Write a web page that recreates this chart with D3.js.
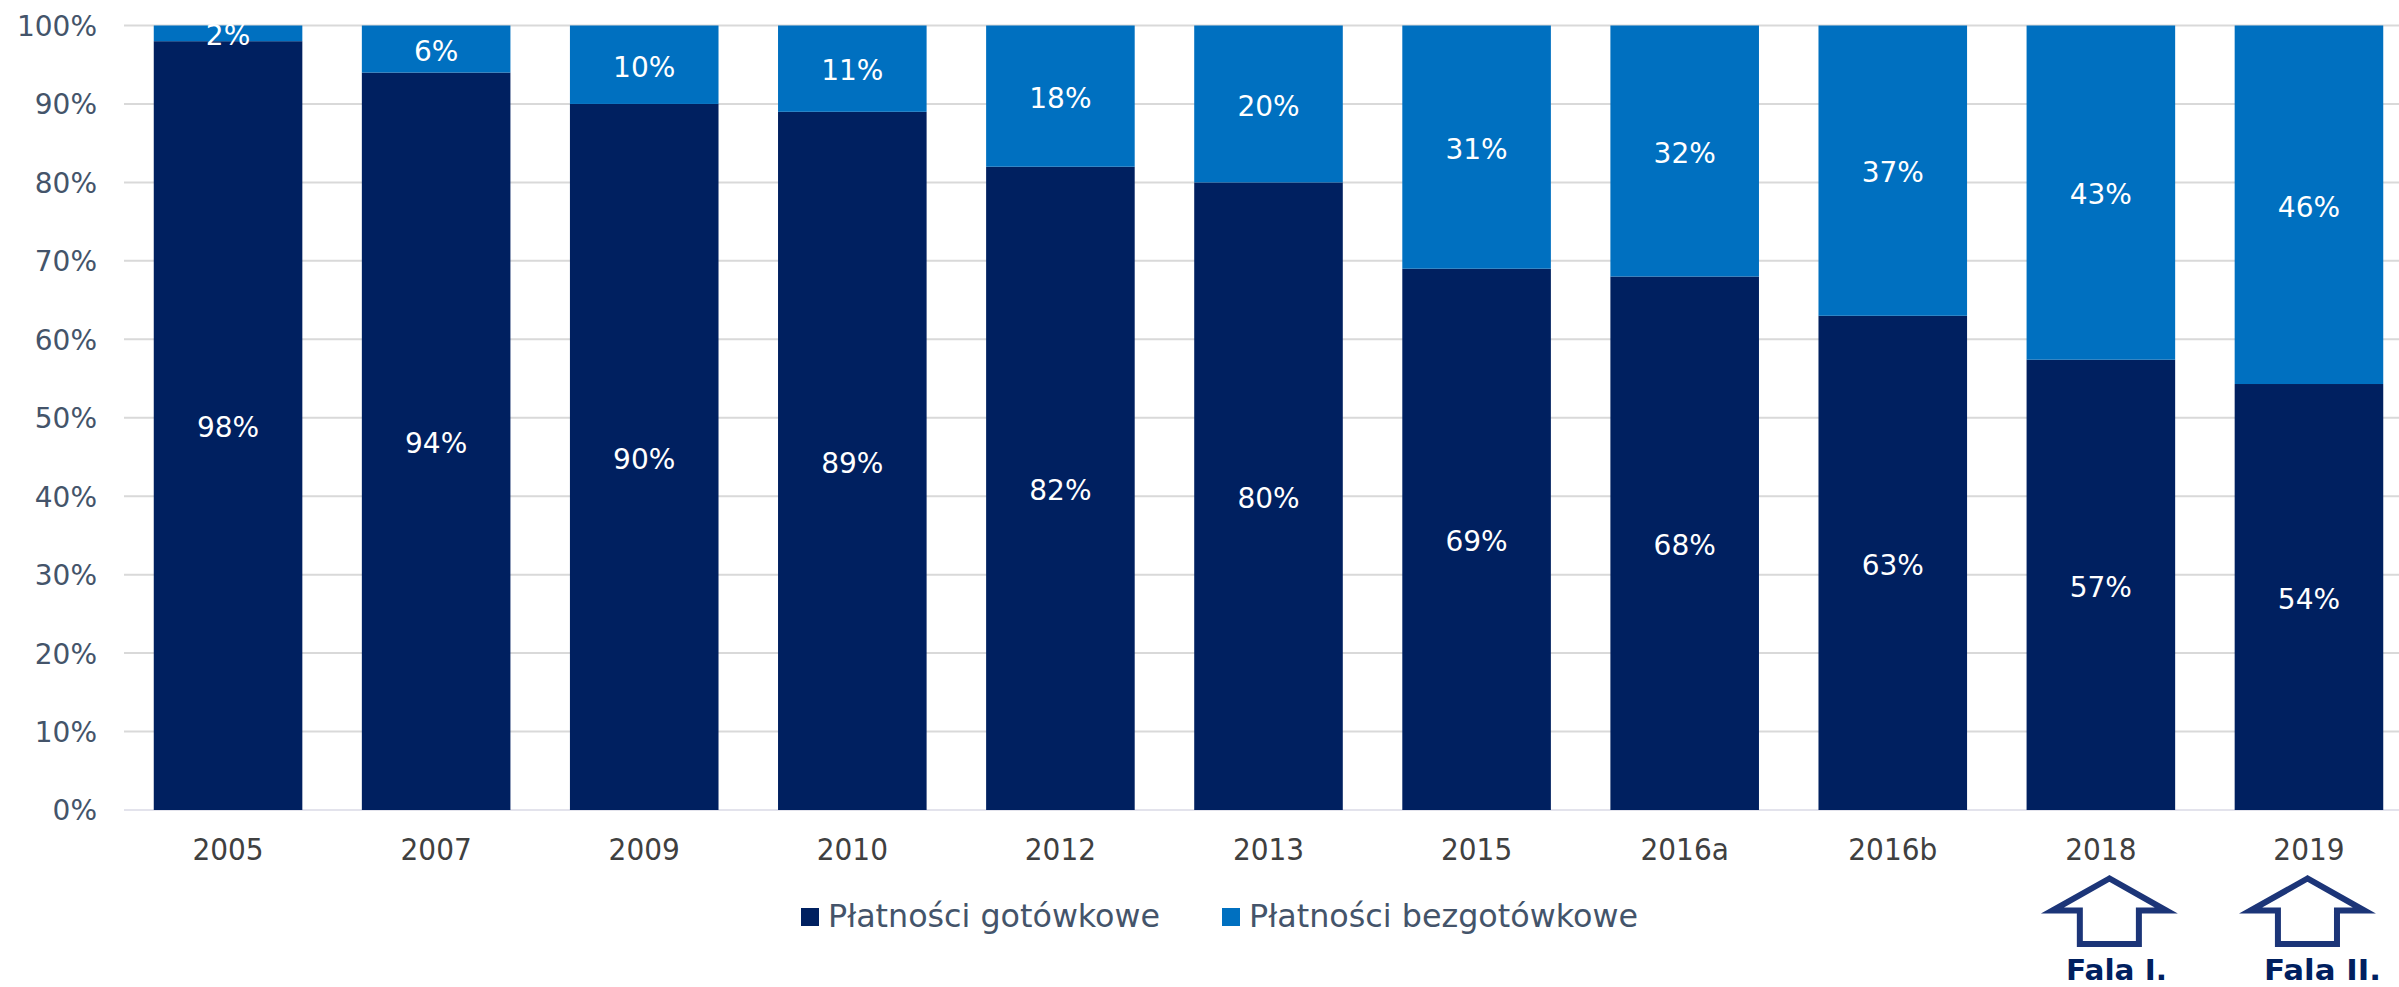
<!DOCTYPE html>
<html><head><meta charset="utf-8">
<script src="https://cdn.jsdelivr.net/npm/d3@7/dist/d3.min.js"></script>
<style>html,body{margin:0;padding:0;background:#fff;overflow:hidden}svg{display:block}text{font-family:"DejaVu Sans",sans-serif}</style>
</head><body><svg id="c" width="2399" height="987"></svg>
<script>
const categories=["2005","2007","2009","2010","2012","2013","2015","2016a","2016b","2018","2019"];
const cash=[98,94,90,89,82,80,69,68,63,57.4,54.3];
const cashless=[2,6,10,11,18,20,31,32,37,42.6,45.7];
const seriesNames=["Płatności gotówkowe","Płatności bezgotówkowe"];
const seriesColors=["#002060","#0070c0"];
const yTicks=[0,10,20,30,40,50,60,70,80,90,100];
const waves=[{category:"2018",label:"Fala I.",shift:8.5,textX:2066,textLen:101},{category:"2019",label:"Fala II.",shift:-1.5,textX:2264,textLen:117}];

const svg=d3.select("#c");
const x=d3.scaleBand().domain(categories).range([124,2413]).paddingInner(0.286).paddingOuter(0.143);
const y=d3.scaleLinear().domain([0,100]).range([810,25.5]);

// grid
svg.append("g").selectAll("line").data(yTicks).join("line")
  .attr("x1",124).attr("x2",2399).attr("y1",d=>y(d)).attr("y2",d=>y(d))
  .attr("stroke",d=>d===0?"#e3e3ec":"#d9d9d9").attr("stroke-width",2);

// y labels
const yAxis=d3.axisLeft(y).tickValues(yTicks).tickFormat(d=>d+"%").tickSize(0).tickPadding(27);
const gy=svg.append("g").attr("transform","translate(124,1)").call(yAxis);
gy.select(".domain").remove();
gy.selectAll("text").attr("font-size",28).attr("font-family","DejaVu Sans").attr("fill","#44546a");

// x labels
const xAxis=d3.axisBottom(x).tickSize(0).tickPadding(29);
const gx=svg.append("g").attr("transform","translate(0,810)").call(xAxis);
gx.select(".domain").remove();
gx.selectAll("text").attr("font-size",30).attr("font-family","DejaVu Sans").attr("fill","#404040")
  .each(function(){const t=d3.select(this);t.attr("textLength",this.getComputedTextLength()*0.933).attr("lengthAdjust","spacingAndGlyphs");});

// bars
const rows=categories.map((c,i)=>({c,a:cash[i],b:cashless[i]}));
const stack=d3.stack().keys(["a","b"])(rows);
const groups=svg.append("g").selectAll("g").data(stack).join("g").attr("fill",(d,i)=>seriesColors[i]);
groups.selectAll("rect").data(d=>d).join("rect")
  .attr("x",d=>x(d.data.c)).attr("width",x.bandwidth())
  .attr("y",d=>y(d[1])).attr("height",d=>y(d[0])-y(d[1]));
groups.selectAll("text").data(d=>d).join("text")
  .attr("x",d=>x(d.data.c)+x.bandwidth()/2).attr("y",d=>(y(d[0])+y(d[1]))/2+2)
  .attr("dy","0.35em").attr("text-anchor","middle").attr("font-size",28).attr("fill","#fff")
  .text(d=>Math.round(d[1]-d[0])+"%");

// legend
const legend=svg.append("g");
const legendX=[801,1222], legendText=[828,1249];
seriesNames.forEach((n,i)=>{
  legend.append("rect").attr("x",legendX[i]).attr("y",908).attr("width",18).attr("height",18).attr("fill",seriesColors[i]);
  legend.append("text").attr("x",legendText[i]).attr("y",927).attr("font-size",32).attr("textLength",i?389:332).attr("lengthAdjust","spacingAndGlyphs").attr("fill","#44546a").text(n);
});

// wave arrows
const arrow=d3.line();
const ax=d3.scaleLinear().domain([-1,1]).range([-57,57]);
const ay=d3.scaleLinear().domain([0,1]).range([878.5,944]);
const shape=[[0,0],[-1,.49],[-.518,.49],[-.518,1],[.518,1],[.518,.49],[1,.49]];
waves.forEach(w=>{
  const cx=x(w.category)+x.bandwidth()/2+w.shift;
  svg.append("path").attr("d",arrow(shape.map(p=>[cx+ax(p[0]),ay(p[1])]))+"Z")
    .attr("fill","#fff").attr("stroke","#1c3578").attr("stroke-width",6).attr("stroke-miterlimit",10);
  svg.append("text").attr("x",w.textX).attr("y",980)
    .attr("font-size",28).attr("font-weight","bold").attr("fill","#002060")
    .attr("textLength",w.textLen).attr("lengthAdjust","spacingAndGlyphs").text(w.label);
});
</script></body></html>
